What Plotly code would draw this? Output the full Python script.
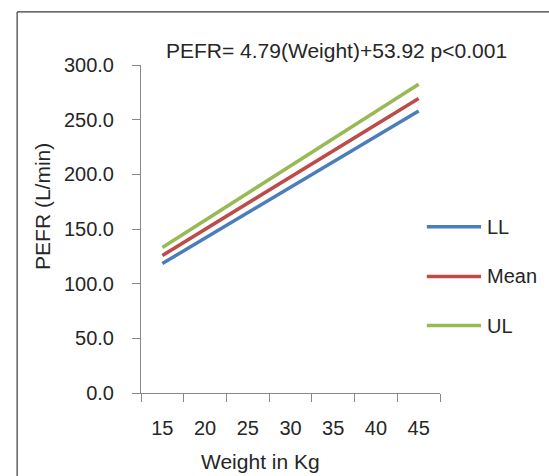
import plotly.graph_objects as go

# ---- data ----
weights = ["15", "20", "25", "30", "35", "40", "45"]
ll_values = [118.4, 141.7, 164.9, 188.2, 211.4, 234.7, 257.9]
mean_values = [125.7, 149.7, 173.6, 197.6, 221.5, 245.5, 269.4]
ul_values = [133.1, 158.0, 182.8, 207.7, 232.6, 257.5, 282.3]
series_names = ["LL", "Mean", "UL"]
y_ticks = [0, 50, 100, 150, 200, 250, 300]
title_text = "PEFR= 4.79(Weight)+53.92 p<0.001"
x_title = "Weight in Kg"
y_title = "PEFR (L/min)"

# ---- style ----
colors = ["#4A7EBB", "#BE4B48", "#98B954"]
FONT = "Liberation Sans, Arial, sans-serif"
TXT = "#262626"
AX = "#898989"

W_PX, H_PX = 549, 476
L, R, T, B = 140.7, 108.5, 65, 83.3
PW = W_PX - L - R
PH = H_PX - T - B


def px(x):
    return (x - L) / PW


def py(y):
    return (H_PX - B - y) / PH


fig = go.Figure()
for name, vals, c in zip(series_names, [ll_values, mean_values, ul_values], colors):
    fig.add_trace(go.Scatter(x=weights, y=vals, mode="lines", name=name,
                             line=dict(color=c, width=3.5), showlegend=False,
                             hoverinfo="skip"))

fig.update_layout(
    width=W_PX, height=H_PX,
    margin=dict(l=L, r=R, t=T, b=B, pad=0),
    paper_bgcolor="white", plot_bgcolor="white",
    font=dict(family=FONT, size=20, color=TXT),
    xaxis=dict(type="category", categoryorder="array", categoryarray=weights,
               range=[-0.5, 6.5], tickson="boundaries", ticks="outside",
               ticklen=8, tickcolor=AX, tickwidth=1, showline=True,
               linecolor=AX, linewidth=1, showgrid=False, zeroline=False,
               ticklabelstandoff=17, tickfont=dict(size=20, color=TXT)),
    yaxis=dict(range=[0, 300], tickvals=y_ticks, tickformat=".1f",
               ticks="outside", ticklen=8, tickcolor=AX, tickwidth=1,
               showline=True, linecolor=AX, linewidth=1, showgrid=False,
               zeroline=False, ticklabelstandoff=14,
               tickfont=dict(size=20, color=TXT)),
)

ann = [
    dict(text=title_text, x=px(336.5), y=py(51), font=dict(size=21)),
    dict(text=x_title, x=px(261), y=py(461), font=dict(size=21)),
    dict(text=y_title, x=px(42.5), y=py(206.7), textangle=-90,
         font=dict(size=21)),
]
for a in ann:
    fig.add_annotation(xref="paper", yref="paper", showarrow=False,
                       xanchor="center", yanchor="middle", **a)

# legend (drawn manually to match key length / spacing)
leg_y = [226.7, 276.3, 325.3]
for name, c, yy in zip(series_names, colors, leg_y):
    fig.add_shape(type="line", xref="paper", yref="paper",
                  x0=px(427.3), x1=px(481.7), y0=py(yy), y1=py(yy),
                  line=dict(color=c, width=3.5))
    fig.add_annotation(xref="paper", yref="paper", showarrow=False,
                       text=name, x=px(485.5), y=py(yy),
                       xanchor="left", yanchor="middle")

# outer frame (left and top edges visible)
fig.add_shape(type="line", xref="paper", yref="paper",
              x0=px(16.5), x1=px(16.5), y0=py(12), y1=py(490),
              line=dict(color="#3a3a3a", width=1.2))
fig.add_shape(type="line", xref="paper", yref="paper",
              x0=px(16.5), x1=px(560), y0=py(12), y1=py(12),
              line=dict(color="#3a3a3a", width=1.2))

fig.write_html("out.html", config={"displayModeBar": False},
               post_script="document.body.style.margin='0';"
                           "document.body.style.overflow='hidden';")
